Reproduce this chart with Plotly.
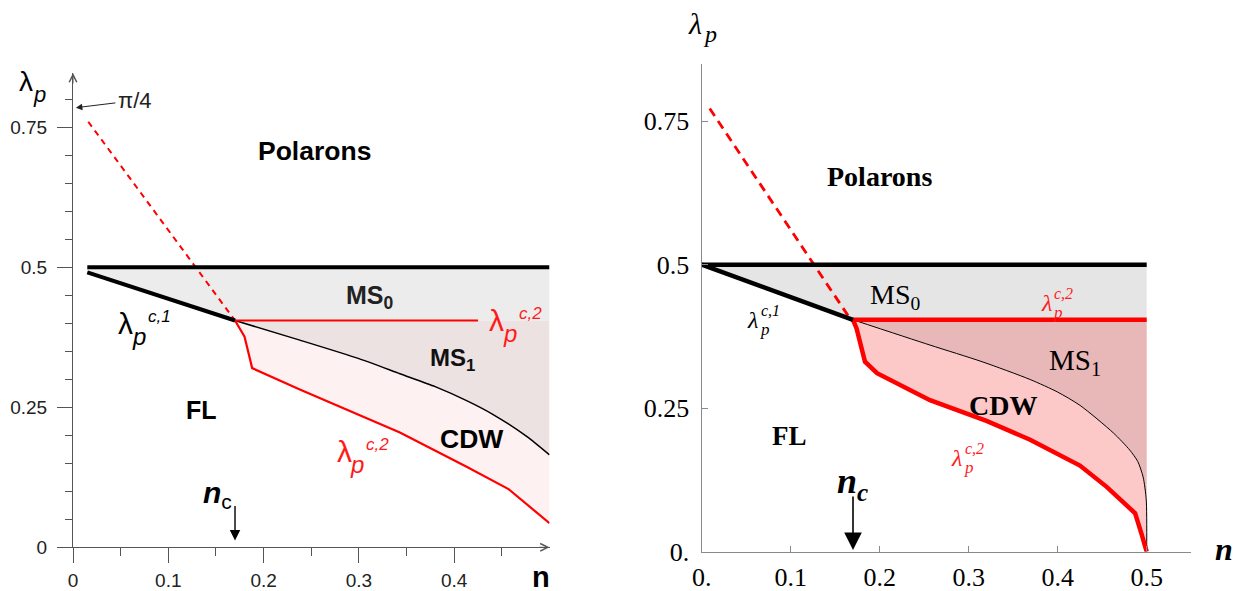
import plotly.graph_objects as go

W, H = 1242, 591

# ---------------- Left panel data ----------------
L_top_n = [0.015, 0.5]
L_top_lam = [0.5, 0.5]
L_c1_n = [0.015, 0.17]
L_c1_lam = [0.491, 0.405]
L_ms_n = [0.17, 0.238, 0.3, 0.343, 0.38, 0.413, 0.44, 0.476, 0.5]
L_ms_lam = [0.405, 0.370, 0.337, 0.310, 0.287, 0.262, 0.238, 0.198, 0.165]
L_c2h_n = [0.17, 0.425]
L_c2h_lam = [0.405, 0.405]
L_c2_n = [0.17, 0.18, 0.188, 0.238, 0.343, 0.413, 0.457, 0.5]
L_c2_lam = [0.405, 0.376, 0.320, 0.282, 0.205, 0.144, 0.104, 0.043]
L_dash_n = [0.016, 0.17]
L_dash_lam = [0.76, 0.405]

L_xticks = [0, 0.1, 0.2, 0.3, 0.4]
L_xticktext = ["0", "0.1", "0.2", "0.3", "0.4"]
L_xminor = [0.05, 0.15, 0.25, 0.35, 0.45]
L_yticks = [0, 0.25, 0.5, 0.75]
L_yticktext = ["0", "0.25", "0.5", "0.75"]
L_yminor = [0.05, 0.1, 0.15, 0.2, 0.3, 0.35, 0.4, 0.45, 0.55, 0.6, 0.65, 0.7, 0.8]

# ---------------- Right panel data ----------------
R_top_n = [0.0, 0.5]
R_top_lam = [0.5, 0.5]
R_c1_n = [0.0, 0.17]
R_c1_lam = [0.5, 0.404]
R_c2h_n = [0.17, 0.5]
R_c2h_lam = [0.404, 0.404]
R_ms_n = [0.17, 0.2565, 0.315, 0.369, 0.4, 0.425, 0.4625, 0.481, 0.49, 0.496, 0.4995, 0.5]
R_ms_lam = [0.404, 0.360, 0.331, 0.300, 0.278, 0.255, 0.207, 0.177, 0.157, 0.13, 0.09, 0.0]
R_c2_n = [0.17, 0.174, 0.1835, 0.197, 0.2565, 0.32, 0.369, 0.425, 0.455, 0.487, 0.494, 0.5]
R_c2_lam = [0.404, 0.389, 0.331, 0.311, 0.264, 0.228, 0.195, 0.150, 0.113, 0.067, 0.032, 0.0]
R_dash_n = [0.009, 0.165]
R_dash_lam = [0.772, 0.41]

R_xticks = [0, 0.1, 0.2, 0.3, 0.4, 0.5]
R_xticktext = ["0.", "0.1", "0.2", "0.3", "0.4", "0.5"]
R_yticks = [0, 0.25, 0.5, 0.75]
R_yticktext = ["0.", "0.25", "0.5", "0.75"]

n_c = 0.17
pi4 = 0.785

SANS = "Liberation Sans, Arial, sans-serif"
SERIF = "Liberation Serif, Times New Roman, serif"

fig = go.Figure()


def poly(xs, ys, color, xa, ya):
    fig.add_trace(go.Scatter(x=xs, y=ys, fill="toself", fillcolor=color, mode="none",
                             hoverinfo="skip", showlegend=False, xaxis=xa, yaxis=ya))


def line(xs, ys, color, width, xa, ya, dash="solid", shape="linear", smoothing=1.0):
    fig.add_trace(go.Scatter(x=xs, y=ys, mode="lines",
                             line=dict(color=color, width=width, dash=dash, shape=shape,
                                       smoothing=smoothing),
                             hoverinfo="skip", showlegend=False, xaxis=xa, yaxis=ya))


def build_panel(top_n, top_lam, c1_n, c1_lam, c2h_lam, ms_n, ms_lam, c2_n, c2_lam,
                colors, xa, ya):
    n_end = top_n[-1]
    xs = list(top_n) + [n_end] + [c1_n[-1]] + list(reversed(c1_n))
    ys = list(top_lam) + [c2h_lam[0]] + [c2h_lam[0]] + list(reversed(c1_lam))
    poly(xs, ys, colors[0], xa, ya)
    xs = [ms_n[0], n_end] + list(reversed(ms_n))
    ys = [c2h_lam[0], c2h_lam[0]] + list(reversed(ms_lam))
    poly(xs, ys, colors[1], xa, ya)
    xs = list(ms_n) + list(reversed(c2_n))
    ys = list(ms_lam) + list(reversed(c2_lam))
    poly(xs, ys, colors[2], xa, ya)


# ---- Left panel ----
build_panel(L_top_n, L_top_lam, L_c1_n, L_c1_lam, L_c2h_lam, L_ms_n, L_ms_lam, L_c2_n, L_c2_lam,
            ["#ececec", "#ede2e2", "#fdf1f1"], "x", "y")
line(L_dash_n, L_dash_lam, "#ff0000", 2, "x", "y", dash="6px,5px")
line(L_ms_n, L_ms_lam, "black", 1.5, "x", "y", shape="spline", smoothing=0.6)
line(L_c2h_n, L_c2h_lam, "#ff0000", 2, "x", "y")
line(L_c2_n, L_c2_lam, "#ff0000", 2.2, "x", "y")
line(L_top_n, L_top_lam, "black", 4, "x", "y")
line(L_c1_n, L_c1_lam, "black", 4, "x", "y")

# ---- Right panel ----
build_panel(R_top_n, R_top_lam, R_c1_n, R_c1_lam, R_c2h_lam, R_ms_n, R_ms_lam, R_c2_n, R_c2_lam,
            ["#e5e5e5", "#e8b7b7", "#fdc8c8"], "x2", "y2")
line(R_dash_n, R_dash_lam, "#ff0000", 2.8, "x2", "y2", dash="9px,6px")
line(R_ms_n, R_ms_lam, "black", 1, "x2", "y2", shape="spline", smoothing=0.7)
line(R_c2h_n, R_c2h_lam, "#ff0000", 4.5, "x2", "y2")
line(R_c2_n, R_c2_lam, "#ff0000", 4.5, "x2", "y2")
line(R_top_n, R_top_lam, "black", 4.5, "x2", "y2")
line(R_c1_n, R_c1_lam, "black", 4.5, "x2", "y2")

# ---- Axes ----
LAX = "#555555"
RAX = "#8a8a8a"
fig.update_layout(
    template="none",
    width=W, height=H, margin=dict(l=0, r=0, t=0, b=0, autoexpand=False),
    paper_bgcolor="white", plot_bgcolor="rgba(0,0,0,0)",
    xaxis=dict(domain=[73 / W, 549.5 / W], range=[0, 0.5], showgrid=False, zeroline=False,
               automargin=False,
               showline=True, linecolor=LAX, linewidth=1,
               tickmode="array", tickvals=L_xticks, ticktext=L_xticktext,
               ticks="outside", ticklen=15, tickcolor=LAX, tickwidth=1,
               ticklabelstandoff=1,
               minor=dict(tickmode="array", tickvals=L_xminor, ticks="outside", ticklen=8,
                          tickcolor=LAX, tickwidth=1),
               tickfont=dict(family=SANS, size=19, color="#222"), anchor="y"),
    yaxis=dict(domain=[1 - 547.3 / H, 1 - 73 / H], range=[0, 0.847], showgrid=False, zeroline=False,
               automargin=False,
               showline=True, linecolor=LAX, linewidth=1,
               tickmode="array", tickvals=L_yticks, ticktext=L_yticktext,
               ticks="outside", ticklen=15, tickcolor=LAX, tickwidth=1,
               ticklabelstandoff=6,
               minor=dict(tickmode="array", tickvals=L_yminor, ticks="outside", ticklen=7,
                          tickcolor=LAX, tickwidth=1),
               tickfont=dict(family=SANS, size=19, color="#222"), anchor="x"),
    xaxis2=dict(domain=[701.7 / W, 1191.2 / W], range=[0, 0.55], showgrid=False, zeroline=False,
                automargin=False,
                showline=True, linecolor=RAX, linewidth=1.3,
                tickmode="array", tickvals=R_xticks, ticktext=R_xticktext,
                ticks="inside", ticklen=6, tickcolor=RAX, tickwidth=1,
                ticklabelstandoff=2,
                tickfont=dict(family=SERIF, size=26, color="black"), anchor="y2"),
    yaxis2=dict(domain=[1 - 551.7 / H, 1 - 63.8 / H], range=[0, 0.85], showgrid=False, zeroline=False,
                automargin=False,
                showline=True, linecolor=RAX, linewidth=1.3,
                tickmode="array", tickvals=R_yticks, ticktext=R_yticktext,
                ticks="inside", ticklen=6, tickcolor=RAX, tickwidth=1,
                ticklabelstandoff=6,
                tickfont=dict(family=SERIF, size=26, color="black"), anchor="x2"),
)


def txt(text, x, y, xref, yref, size, family, color="black", **kw):
    kw.setdefault("xanchor", "center")
    kw.setdefault("yanchor", "middle")
    fig.add_annotation(text=text, x=x, y=y, xref=xref, yref=yref, showarrow=False,
                       font=dict(size=size, family=family, color=color), **kw)


def ptxt(text, px, py, size, family, color="black", **kw):
    txt(text, px / W, 1 - py / H, "paper", "paper", size, family, color, **kw)


def lam_label(x, y, xref, yref, sup, color, family, sizes, sub_off, sup_off, lam_italic):
    lam = "<i>λ</i>" if lam_italic else "λ"
    txt(lam, x, y, xref, yref, sizes[0], family, color)
    txt("<i>p</i>", x, y, xref, yref, sizes[1], family, color, xanchor="left",
        xshift=sub_off[0], yshift=-sub_off[1])
    txt("<i>" + sup + "</i>", x, y, xref, yref, sizes[2], family, color, xanchor="left",
        xshift=sup_off[0], yshift=-sup_off[1])


# ---- Left panel texts ----
B = lambda s: "<b>" + s + "</b>"
txt(B("Polarons"), 0.253, 0.708, "x", "y", 26.5, SANS)
txt(B("MS<sub>0</sub>"), 0.312, 0.447, "x", "y", 25, SANS, color="#222")
txt(B("MS<sub>1</sub>"), 0.398, 0.335, "x", "y", 24, SANS, color="#111")
txt(B("CDW"), 0.418, 0.193, "x", "y", 26.5, SANS)
txt(B("FL"), 0.135, 0.245, "x", "y", 25, SANS)
lam_label(0.0556, 0.3996, "x", "y", "c,1", "black", SANS, (30, 24, 17), (4, 13), (20, -7), False)
lam_label(0.4444, 0.4059, "x", "y", "c,2", "#ff1a1a", SANS, (30, 24, 17), (4, 13), (20, -7), False)
lam_label(0.2844, 0.1711, "x", "y", "c,2", "#ff1a1a", SANS, (30, 24, 17), (4, 13), (20, -7), False)
# axis labels
ptxt("λ", 25.5, 81.5, 28, SANS)
ptxt("<i>p</i>", 39, 94, 22, SANS)
ptxt(B("n"), 541, 577, 29, SANS)
ptxt("π/4", 135, 100, 22, SANS, color="#222")
fig.add_annotation(x=0.003, y=pi4, xref="x", yref="y", text="", showarrow=True,
                   ax=41, ay=-5, arrowhead=2, arrowsize=1.3, arrowwidth=1, arrowcolor="#222")
# n_c
ptxt(B("<i>n</i>") + "<sub>c</sub>", 217, 494, 30, SANS)
fig.add_annotation(x=n_c, y=0.012, xref="x", yref="y", text="", showarrow=True,
                   ax=0, ay=-36, arrowhead=2, arrowsize=1.5, arrowwidth=1.4, arrowcolor="black")
# axis arrows
fig.add_annotation(x=0, y=0.847, xref="x", yref="y", text="", showarrow=True,
                   ax=0, ay=12, arrowhead=5, arrowsize=1.5, arrowwidth=1, arrowcolor=LAX)
fig.add_annotation(x=0.5, y=0, xref="x", yref="y", text="", showarrow=True,
                   ax=-12, ay=0, arrowhead=5, arrowsize=1.5, arrowwidth=1, arrowcolor=LAX)

# ---- Right panel texts ----
txt(B("Polarons"), 0.2003, 0.653, "x2", "y2", 28, SERIF)
txt("MS<sub>0</sub>", 0.2172, 0.444, "x2", "y2", 28, SERIF)
txt("MS<sub>1</sub>", 0.4194, 0.330, "x2", "y2", 29, SERIF)
txt(B("CDW"), 0.3385, 0.254, "x2", "y2", 28, SERIF)
txt(B("FL"), 0.0992, 0.2016, "x2", "y2", 27, SERIF)
lam_label(0.0571, 0.4037, "x2", "y2", "c,1", "black", SERIF, (24, 17, 16), (5, 10), (6, -9), True)
lam_label(0.3869, 0.4333, "x2", "y2", "c,2", "#ff1a1a", SERIF, (24, 17, 16), (5, 10), (6, -9), True)
lam_label(0.2863, 0.1641, "x2", "y2", "c,2", "#ff1a1a", SERIF, (24, 17, 16), (5, 10), (6, -9), True)
ptxt("<i>λ</i>", 694.5, 23.5, 30, SERIF)
ptxt("<i>p</i>", 709.5, 34, 24, SERIF)
ptxt(B("<i>n</i>"), 1224, 549, 32, SERIF)
ptxt(B("<i>n<sub>c</sub></i>"), 852, 483, 36, SERIF)
fig.add_annotation(x=n_c, y=0.003, xref="x2", yref="y2", text="", showarrow=True,
                   ax=0, ay=-55, arrowhead=2, arrowsize=2.2, arrowwidth=1.6, arrowcolor="black")

fig.write_html("out.html", config={"displayModeBar": False},
               post_script="document.body.style.margin='0';document.body.style.overflow='hidden';")
